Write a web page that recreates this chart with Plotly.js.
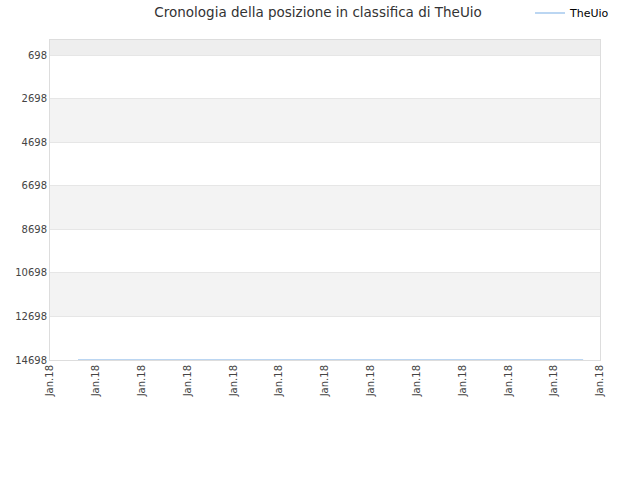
<!DOCTYPE html>
<html>
<head>
<meta charset="utf-8">
<script src="https://cdn.plot.ly/plotly-3.0.1.min.js"></script>
<style>
  body { margin: 0; }
  #chart { width: 640px; height: 480px; }
</style>
</head>
<body>
<div id="chart"></div>
<script>
// ranking history of TheUio
var dates = ['2018-01-05 14:40', '2018-01-16 15:10'];
var ranks = [14698, 14698];
var tickDays = ['2018-01-05', '2018-01-06', '2018-01-07', '2018-01-08', '2018-01-09',
  '2018-01-10', '2018-01-11', '2018-01-12', '2018-01-13', '2018-01-14',
  '2018-01-15', '2018-01-16', '2018-01-17'];
var rankTicks = [698, 2698, 4698, 6698, 8698, 10698, 12698, 14698];

// alternating background bands
var shapes = [];
for (var i = 1; i < rankTicks.length - 1; i += 2) {
  shapes.push({
    type: 'rect', xref: 'paper', yref: 'y', layer: 'below',
    x0: 0, x1: 1, y0: rankTicks[i], y1: rankTicks[i + 1],
    fillcolor: '#f3f3f3', line: {width: 0}
  });
}
shapes.push({
  type: 'rect', xref: 'paper', yref: 'y', layer: 'below',
  x0: 0, x1: 1, y0: 1, y1: rankTicks[0],
  fillcolor: '#eeeeee', line: {width: 0}
});

var trace = {
  x: dates,
  y: ranks,
  type: 'scatter',
  mode: 'lines',
  name: 'TheUio',
  line: {color: '#a4c8ee', width: 1.5}
};

var layout = {
  width: 640,
  height: 480,
  margin: {l: 50, r: 40, t: 40, b: 120, autoexpand: false},
  paper_bgcolor: '#ffffff',
  plot_bgcolor: '#ffffff',
  font: {family: 'DejaVu Sans, sans-serif', size: 10, color: '#444444'},
  title: {
    text: 'Cronologia della posizione in classifica di TheUio',
    font: {size: 13.5, color: '#333333'},
    x: 0.497, xanchor: 'center', y: 0.985, yanchor: 'top'
  },
  showlegend: true,
  legend: {
    xref: 'container', yref: 'container',
    x: 0.961, xanchor: 'right', y: 0.973, yanchor: 'middle',
    font: {size: 11, color: '#000000'},
    bgcolor: 'rgba(0,0,0,0)'
  },
  xaxis: {
    type: 'date',
    range: [tickDays[0], tickDays[tickDays.length - 1]],
    tickvals: tickDays,
    tickformat: '%b.%y',
    tickangle: -90,
    showgrid: false,
    zeroline: false,
    showline: true,
    linecolor: '#dddddd',
    mirror: true,
    ticks: ''
  },
  yaxis: {
    range: [14698, 1],
    tickvals: rankTicks,
    ticktext: rankTicks.map(String),
    showgrid: true,
    gridcolor: '#e6e6e6',
    zeroline: false,
    showline: true,
    linecolor: '#dddddd',
    mirror: true,
    ticks: ''
  },
  shapes: shapes
};

Plotly.newPlot('chart', [trace], layout, {displayModeBar: false, staticPlot: true});
</script>
</body>
</html>
